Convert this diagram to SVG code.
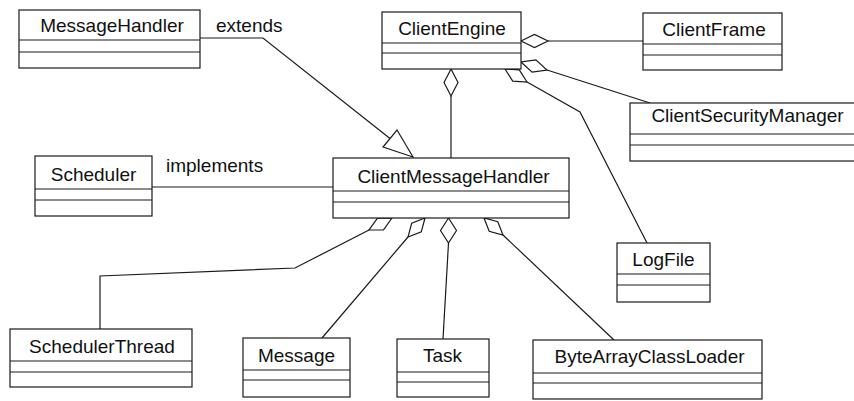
<svg xmlns="http://www.w3.org/2000/svg" width="854" height="401" viewBox="0 0 854 401">
  <style>
    .box { fill: #fff; stroke: #1a1a1a; stroke-width: 1.2; }
    .div { stroke: #1a1a1a; stroke-width: 1.2; fill: none; }
    .name { font-family: "Liberation Sans", Arial, sans-serif; font-size: 19px; fill: #111; text-anchor: middle; }
    .lbl { font-family: "Liberation Sans", Arial, sans-serif; font-size: 19px; fill: #111; }
    .conn { stroke: #1a1a1a; stroke-width: 1.2; fill: none; }
    .agg { stroke: #1a1a1a; stroke-width: 1.2; fill: #fff; stroke-linejoin: miter; }
  </style>

  <rect width="854" height="401" fill="#fff"/>

  <!-- associations, aggregations and generalizations -->
  <g id="connectors">
    <!-- MessageHandler <|- ClientMessageHandler -->
    <polyline class="conn" points="200,38 263,38 390,138.5"/>
    <polygon class="agg" points="413,157 397,130 383,147"/>
    <text class="lbl" x="216" y="32">extends</text>

    <!-- Scheduler - ClientMessageHandler -->
    <line class="conn" x1="152" y1="187" x2="333" y2="187"/>
    <text class="lbl" x="166" y="172">implements</text>

    <!-- ClientEngine aggregations -->
    <line class="conn" x1="548" y1="41" x2="643" y2="41"/>
    <polygon class="agg" points="521,41 534.5,34.5 548,41 534.5,47.5"/>

    <line class="conn" x1="547" y1="70" x2="650" y2="103"/>
    <polygon class="agg" points="521,62 532.1,72.2 547,70 535.9,59.8"/>

    <polyline class="conn" points="527,82 580,112 647,243"/>
    <polygon class="agg" points="505,69 512.7,81.1 527,82 519.3,69.9"/>

    <line class="conn" x1="451" y1="96" x2="451" y2="158"/>
    <polygon class="agg" points="451,69 458,82.5 451,96 444,82.5"/>

    <!-- ClientMessageHandler aggregations -->
    <polyline class="conn" points="369,230 295,268 100,276 100,329"/>
    <polygon class="agg" points="392,218 383.5,229.8 369,230 377.5,218.2"/>

    <line class="conn" x1="408" y1="237" x2="322" y2="338"/>
    <polygon class="agg" points="425,218 421.3,231.8 408,237 411.7,223.2"/>

    <line class="conn" x1="448.5" y1="243" x2="443" y2="339"/>
    <polygon class="agg" points="448.5,218 456.5,230.5 448.5,243 440.5,230.5"/>

    <line class="conn" x1="503" y1="235" x2="614" y2="340"/>
    <polygon class="agg" points="484,218 489.2,231.3 503,235 497.8,221.7"/>
  </g>

  <g id="MessageHandler">
    <rect class="box" x="19" y="10" width="181" height="58"/>
    <path class="div" d="M19 40H200M19 52H200"/>
    <text class="name" x="112" y="32">MessageHandler</text>
  </g>

  <g id="ClientEngine">
    <rect class="box" x="382" y="12" width="139" height="57"/>
    <path class="div" d="M382 43H521M382 53H521"/>
    <text class="name" x="452" y="35">ClientEngine</text>
  </g>

  <g id="ClientFrame">
    <rect class="box" x="643" y="13" width="139" height="57"/>
    <path class="div" d="M643 44H782M643 55H782"/>
    <text class="name" x="714" y="36">ClientFrame</text>
  </g>

  <g id="ClientSecurityManager">
    <rect class="box" x="630" y="103" width="232" height="58"/>
    <path class="div" d="M630 134H862M630 145H862"/>
    <text class="name" x="747.5" y="122">ClientSecurityManager</text>
  </g>

  <g id="Scheduler">
    <rect class="box" x="35" y="156" width="117" height="60"/>
    <path class="div" d="M35 189H152M35 200H152"/>
    <text class="name" x="93.5" y="181">Scheduler</text>
  </g>

  <g id="ClientMessageHandler">
    <rect class="box" x="333" y="158" width="236" height="60"/>
    <path class="div" d="M333 191H569M333 202H569"/>
    <text class="name" x="453.5" y="183">ClientMessageHandler</text>
  </g>

  <g id="LogFile">
    <rect class="box" x="617" y="243" width="93" height="59"/>
    <path class="div" d="M617 274H710M617 285H710"/>
    <text class="name" x="663.5" y="266">LogFile</text>
  </g>

  <g id="SchedulerThread">
    <rect class="box" x="10" y="329" width="182" height="58"/>
    <path class="div" d="M10 361H192M10 372H192"/>
    <text class="name" x="102" y="353">SchedulerThread</text>
  </g>

  <g id="Message">
    <rect class="box" x="243" y="338" width="107" height="59"/>
    <path class="div" d="M243 370H350M243 380H350"/>
    <text class="name" x="296.5" y="362">Message</text>
  </g>

  <g id="Task">
    <rect class="box" x="397" y="339" width="92" height="58"/>
    <path class="div" d="M397 372H489M397 382H489"/>
    <text class="name" x="442.5" y="362">Task</text>
  </g>

  <g id="ByteArrayClassLoader">
    <rect class="box" x="533" y="340" width="229" height="59"/>
    <path class="div" d="M533 373H762M533 383H762"/>
    <text class="name" x="649.5" y="363">ByteArrayClassLoader</text>
  </g>
</svg>
